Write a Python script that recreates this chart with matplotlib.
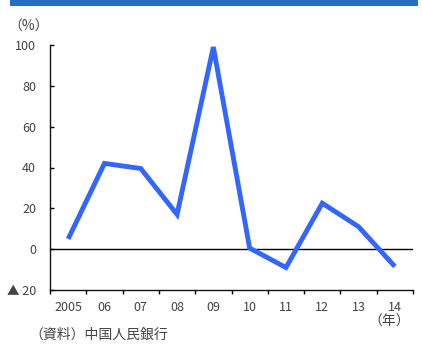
import matplotlib
matplotlib.use("Agg")
import matplotlib.pyplot as plt
from matplotlib.patches import Rectangle
import numpy as np

plt.rcParams['font.family'] = ['Noto Sans CJK JP', 'DejaVu Sans']

years = ["2005", "06", "07", "08", "09", "10", "11", "12", "13", "14"]
values = [5, 42, 39.5, 17, 99, 0.5, -9, 22.5, 11, -8.5]
yticks = [-20, 0, 20, 40, 60, 80, 100]
ytick_labels = ["▲ 20", "0", "20", "40", "60", "80", "100"]

fig = plt.figure(figsize=(4.22, 3.49), dpi=100)
fig.patch.set_facecolor("white")

# top banner (cut off in the reference)
fig.patches.append(Rectangle((10/422, 1-6/349), 408/422, 6/349,
                             transform=fig.transFigure, facecolor="#1f6fc5",
                             edgecolor="none"))

ax = fig.add_axes([50/422, 1-290/349, 363/422, 245/349])
x = np.arange(len(years))
ax.plot(x, values, color="#3366ff", linewidth=3.5, solid_joinstyle="miter",
        solid_capstyle="butt", zorder=3)
ax.axhline(0, color="black", linewidth=1.0, zorder=2)

ax.set_xlim(-0.5, len(years) - 0.5)
ax.set_ylim(-20, 100)

ax.spines['top'].set_visible(False)
ax.spines['right'].set_visible(False)
for s in ('left', 'bottom'):
    ax.spines[s].set_linewidth(1.0)
    ax.spines[s].set_color("#111111")

ax.set_yticks(yticks)
ax.set_yticklabels(ytick_labels)
ax.tick_params(axis='y', direction='in', length=3, width=1, labelsize=9,
               labelcolor="#444444", pad=10)

ax.set_xticks(np.arange(len(years) + 1) - 0.5)
ax.set_xticklabels([])
ax.tick_params(axis='x', which='major', direction='out', length=3, width=1)
ax.set_xticks(x, minor=True)
ax.set_xticklabels(years, minor=True)
ax.tick_params(axis='x', which='minor', length=0, labelsize=9,
               labelcolor="#444444", pad=8)

fig.text(8/422, 1-27/349, "（%）", fontsize=10, color="#444444",
         ha="left", va="center")
fig.text(389/422, 1-322/349, "（年）", fontsize=10, color="#444444",
         ha="center", va="center")
fig.text(29/422, 1-335/349, "（資料）中国人民銀行", fontsize=10, color="#444444",
         ha="left", va="center")

fig.savefig("out.png", dpi=100, facecolor="white")
